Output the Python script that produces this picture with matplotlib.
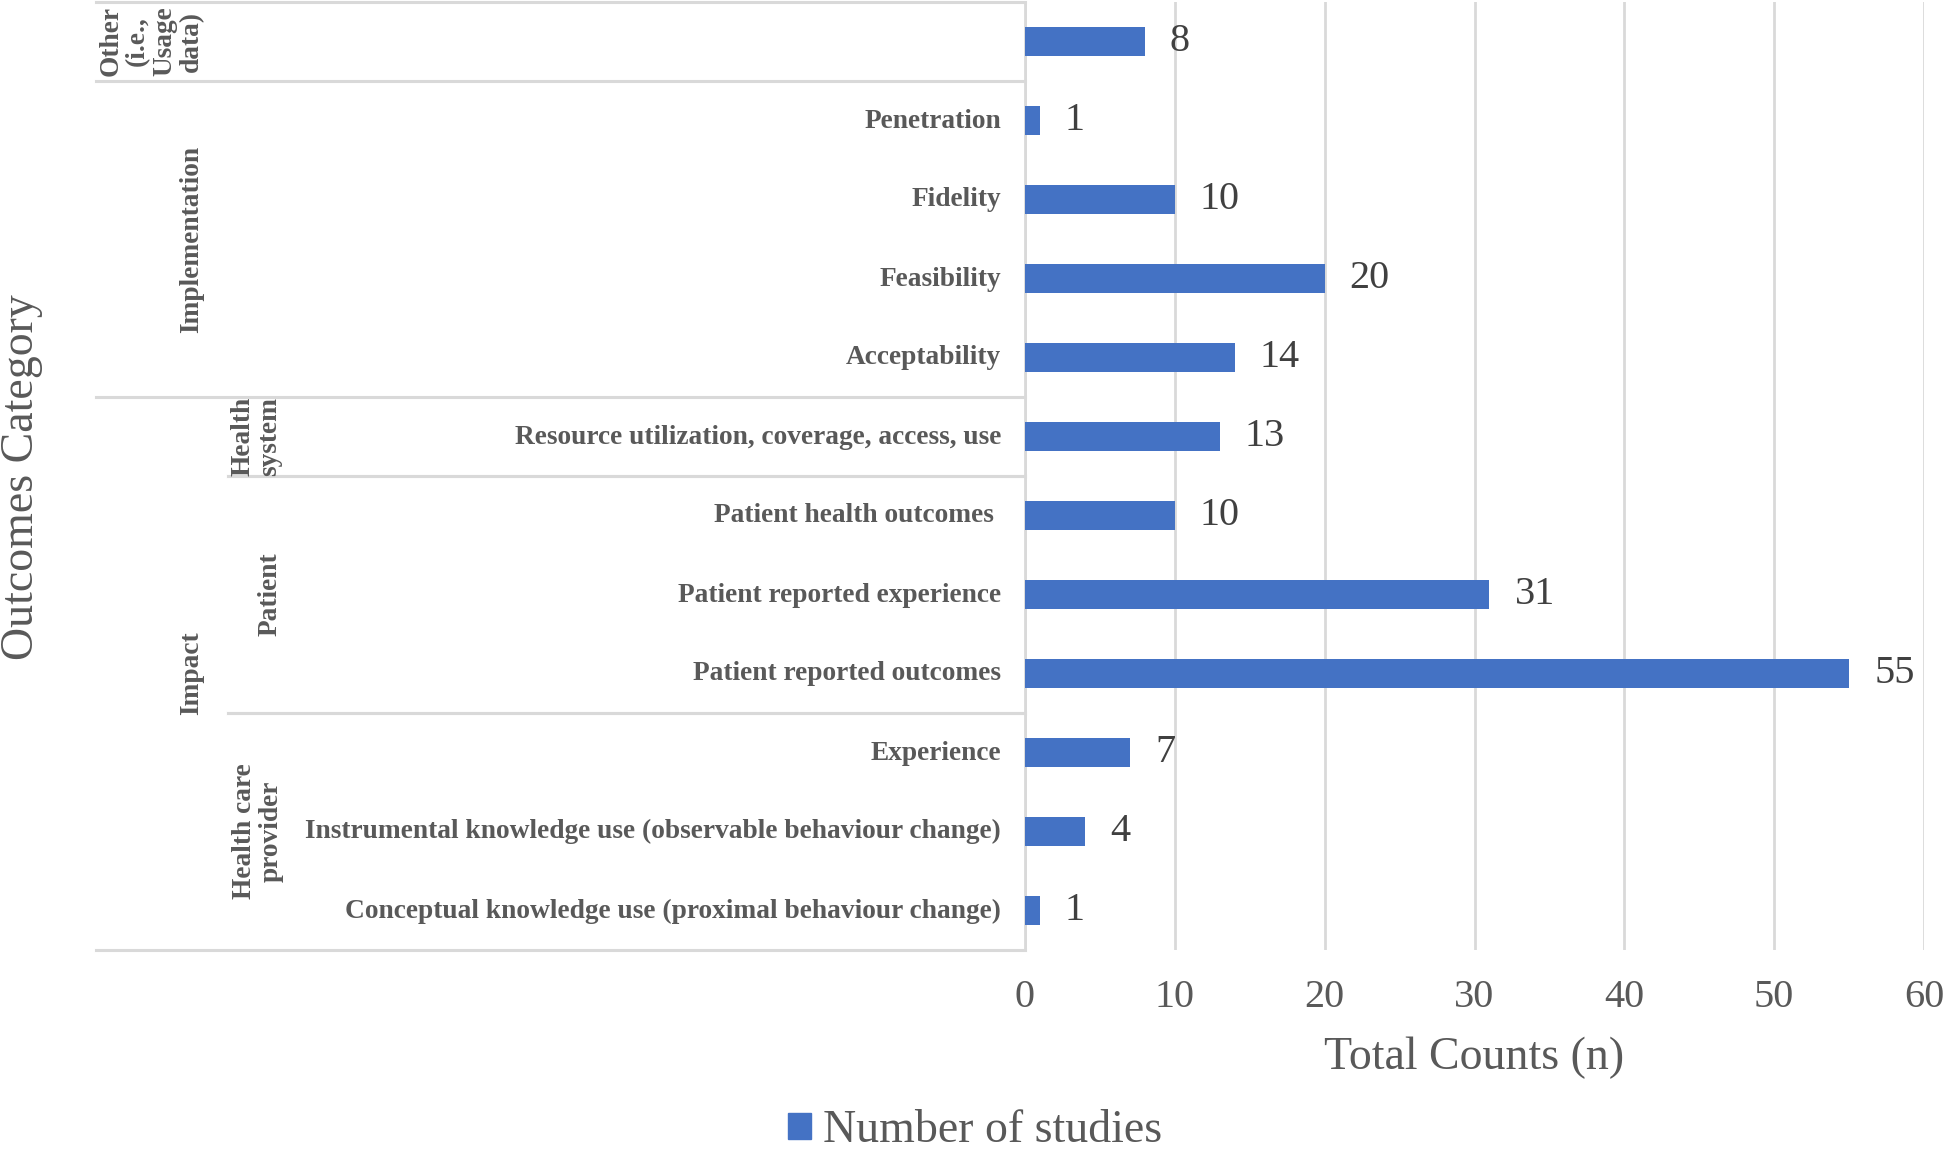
import matplotlib as mpl
mpl.use('Agg')

import matplotlib.pyplot as plt
from matplotlib.transforms import blended_transform_factory, offset_copy
from matplotlib.lines import Line2D
from matplotlib.patches import Patch

W, H = 1945, 1150

# one row per outcome, top to bottom
outcomes = [
    "",
    "Penetration",
    "Fidelity",
    "Feasibility",
    "Acceptability",
    "Resource utilization, coverage, access, use",
    "Patient health outcomes ",
    "Patient reported experience",
    "Patient reported outcomes",
    "Experience",
    "Instrumental knowledge use (observable behaviour change)",
    "Conceptual knowledge use (proximal behaviour change)",
]
counts = [8, 1, 10, 20, 14, 13, 10, 31, 55, 7, 4, 1]

top_groups = ["Other\n(i.e.,\nUsage\ndata)", "Implementation", "Impact"]
top_spans = [(0, 0), (1, 4), (5, 11)]
sub_groups = ["Health\nsystem", "Patient", "Health care\nprovider"]
sub_spans = [(5, 5), (6, 8), (9, 11)]

xticks = [0, 10, 20, 30, 40, 50, 60]

blue = '#4472C4'
line_col = '#D9D9D9'
txt_col = '#595959'

plt.rcParams['font.family'] = ['Liberation Serif', 'DejaVu Serif']

fig = plt.figure(figsize=(W / 100, H / 100), dpi=100)
ax = fig.add_axes([1025 / W, 1 - 950 / H, 899 / W, 948 / H])

ypos = list(range(len(outcomes)))
ax.barh(ypos, counts, height=0.36, color=blue, zorder=3)

for y, v in zip(ypos, counts):
    ax.annotate(str(v), (v, y), xytext=(18, 0), textcoords='offset points',
                ha='left', va='center', fontsize=29, color='#404040')

ax.set_xlim(0, 60)
ax.set_ylim(11.5, -0.5)
ax.set_xticks(xticks)
ax.set_yticks([])
ax.tick_params(axis='x', length=0, pad=21, labelsize=29, labelcolor=txt_col)
ax.grid(axis='x', color=line_col, lw=2, zorder=0)
for side in ['top', 'right', 'bottom']:
    ax.spines[side].set_visible(False)
ax.spines['left'].set_color(line_col)
ax.spines['left'].set_linewidth(2)
ax.set_xlabel('Total Counts (n)', fontsize=33, color=txt_col, labelpad=15)

# multi-level category axis on the left
trans = blended_transform_factory(fig.transFigure, ax.transData)
label_trans = offset_copy(trans, fig=fig, x=0, y=-7, units='dots')
for y, name in zip(ypos, outcomes):
    ax.text(1001 / W, y, name, transform=label_trans, ha='right',
            va='baseline', fontsize=19.7, fontweight='bold', color=txt_col)

top_bounds = set()
for a, b in top_spans:
    top_bounds.add(a - 0.5)
    top_bounds.add(b + 0.5)
for yb in top_bounds:
    ax.add_line(Line2D([96 / W, 1025 / W], [yb, yb], transform=trans,
                       color=line_col, lw=2.2, clip_on=False))
for a, b in sub_spans:
    for yb in (a - 0.5, b + 0.5):
        if yb not in top_bounds:
            ax.add_line(Line2D([228 / W, 1025 / W], [yb, yb], transform=trans,
                               color=line_col, lw=2.2, clip_on=False))

top_x = [151, 192, 192]
for name, (a, b), xp in zip(top_groups, top_spans, top_x):
    ax.text(xp / W, (a + b) / 2, name, transform=trans, rotation=90,
            ha='center', va='center', multialignment='center',
            fontsize=19.7, fontweight='bold', color=txt_col, linespacing=1.1)

sub_x = [256, 270, 258]
for name, (a, b), xp in zip(sub_groups, sub_spans, sub_x):
    ax.text(xp / W, (a + b) / 2, name, transform=trans, rotation=90,
            ha='center', va='center', multialignment='center',
            fontsize=19.7, fontweight='bold', color=txt_col, linespacing=1.1)

fig.text(22 / W, 1 - 477 / H, 'Outcomes Category', rotation=90,
         ha='center', va='center', fontsize=33, color=txt_col)

fig.legend(handles=[Patch(color=blue, label='Number of studies')],
           loc='center', bbox_to_anchor=(975 / W, 1 - 1131 / H),
           frameon=False, fontsize=33, labelcolor=txt_col,
           handlelength=0.5, handleheight=0.5, handletextpad=0.25,
           borderpad=0)

fig.savefig('out.png', dpi=100)
